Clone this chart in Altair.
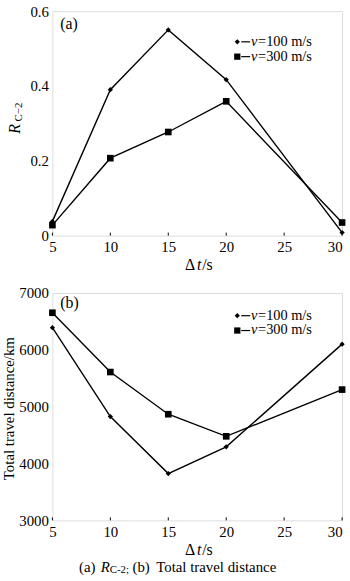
import altair as alt
import pandas as pd

dt = [5, 10, 15, 20, 30]
series = ["v=100 m/s", "v=300 m/s"]
r_v100 = [0.038, 0.39, 0.55, 0.417, 0.008]
r_v300 = [0.028, 0.207, 0.277, 0.359, 0.035]
d_v100 = [6390, 4826, 3823, 4293, 6100]
d_v300 = [6652, 5609, 4867, 4478, 5300]
x_ticks = [5, 10, 15, 20, 25, 30]
r_ticks = [0, 0.2, 0.4, 0.6]
d_ticks = [3000, 4000, 5000, 6000, 7000]

FONT = "Liberation Serif"
W, H = 293, 227
H2 = 230


def long_df(a, b):
    rows = []
    for s, vals in zip(series, [a, b]):
        for x, v in zip(dt, vals):
            rows.append({"dt": x, "val": v, "series": s})
    return pd.DataFrame(rows)


def txt(t, x, y, size=15, style="normal", align="left", angle=0, baseline="middle"):
    kw = dict(text=t, font=FONT, fontSize=size, fontStyle=style, align=align,
              baseline=baseline, color="black")
    if angle:
        kw["angle"] = angle
    return alt.Chart(pd.DataFrame({"a": [0]})).mark_text(**kw).encode(
        x=alt.value(x), y=alt.value(y))


def legend(y1, y2):
    layers = []
    for i, yy in enumerate([y1, y2]):
        shape = "diamond" if i == 0 else "square"
        size = 28 if i == 0 else 40
        layers.append(alt.Chart(pd.DataFrame({"a": [0]})).mark_point(
            shape=shape, filled=True, color="black", size=size, opacity=1).encode(
            x=alt.value(187), y=alt.value(yy)))
        layers.append(alt.Chart(pd.DataFrame({"a": [0]})).mark_rule(
            color="black", strokeWidth=1.2).encode(
            x=alt.value(191), x2=alt.value(200), y=alt.value(yy)))
        layers.append(txt("v", 204, yy, size=14.5, style="italic", align="center"))
        layers.append(txt("=100 m/s" if i == 0 else "=300 m/s", 208, yy, size=14.5))
    return layers


def panel(a, b, ydom, yticks, h, label, ytitle_layers, label_expr, caption=False):
    df = long_df(a, b)
    xenc = alt.X("dt:Q", scale=alt.Scale(domain=[5, 30], nice=False),
                 axis=alt.Axis(values=x_ticks, title=None, labelFont=FONT,
                               labelFontSize=15, labelColor="black",
                               ticks=False, domain=False, grid=False,
                               labelPadding=4, labelFlush=False,
                               labelAlign={"condition": {"test": "datum.value == 30", "value": "right"},
                                           "value": "center"}))
    yenc = alt.Y("val:Q", scale=alt.Scale(domain=ydom, nice=False),
                 axis=alt.Axis(values=yticks, title=None, labelFont=FONT,
                               labelFontSize=15, labelColor="black",
                               ticks=False, domain=False, grid=False,
                               labelPadding=4, labelExpr=label_expr))
    base = alt.Chart(df)
    line = base.mark_line(color="black", strokeWidth=1.4).encode(
        x=xenc, y=yenc, detail="series:N")
    pts = base.mark_point(filled=True, color="black", opacity=1).encode(
        x="dt:Q", y="val:Q",
        shape=alt.Shape("series:N", scale=alt.Scale(domain=series, range=["diamond", "square"]), legend=None),
        size=alt.Size("series:N", scale=alt.Scale(domain=series, range=[28, 45]), legend=None))
    tick = alt.Chart(pd.DataFrame({"t": x_ticks})).mark_rule(
        color="black", strokeWidth=1).encode(
        x="t:Q", y=alt.value(h), y2=alt.value(h - 3))
    layers = [line, pts, tick, txt(label, 8, 13 if label == "(a)" else 10, size=16)]
    cx = W / 2
    yt = h + 30
    layers += [txt("Δ", cx - 2, yt, size=16, align="right"),
               txt("t", cx + 2, yt, size=16, style="italic", align="center"),
               txt("/s", cx + 5, yt, size=16)]
    layers += ytitle_layers
    layers += legend(31 if label == "(a)" else 23, 46 if label == "(a)" else 38)
    if caption:
        cy = h + 47
        layers += [txt("(a)", 27, cy, size=15),
                   txt("R", 49, cy, size=15, style="italic"),
                   txt("C-2;", 58, cy + 3, size=11),
                   txt("(b)", 81, cy, size=15),
                   txt("Total travel distance", 105, cy, size=15)]
    return alt.layer(*layers).properties(width=W, height=h)


top_title = [txt("R", -38, 119, size=16, style="italic", align="center", angle=270),
             txt("C−2", -34, 102, size=11, align="center", angle=270)]
bot_title = [txt("Total travel distance/km", -44, 117, size=15, align="center", angle=270)]

p1 = panel(r_v100, r_v300, [0, 0.6], r_ticks, H, "(a)", top_title,
           "datum.value == 0 ? '0' : format(datum.value, '.1f')")
p2 = panel(d_v100, d_v300, [3000, 7000], d_ticks, H2, "(b)", bot_title,
           "format(datum.value, 'd')", caption=True)

chart = alt.vconcat(p1, p2, spacing=58, bounds="flush").properties(
    padding={"left": 1, "right": 4, "top": 0, "bottom": 0}
).configure_view(stroke="#222", strokeWidth=1).configure(
    background="white", font=FONT
).configure_axis(labelFont=FONT)

chart.save("out.html", embed_options={"renderer": "svg", "actions": False})
